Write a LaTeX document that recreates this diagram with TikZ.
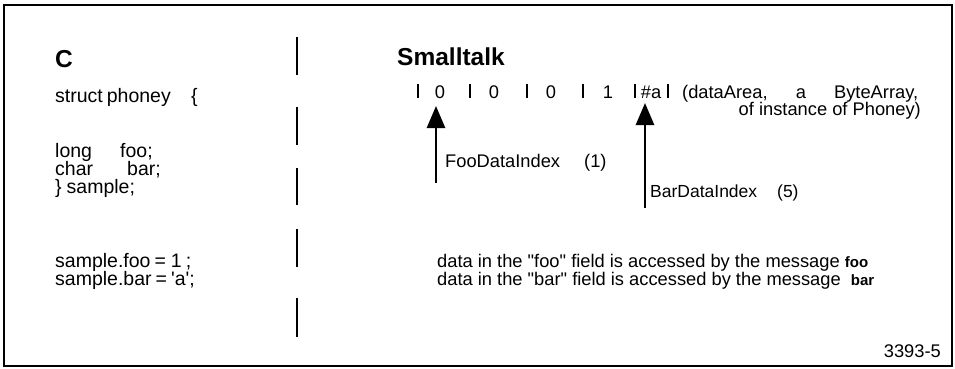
\documentclass[tikz,border=0pt]{standalone}
\usepackage{fontspec}
\setmainfont{Liberation Sans}
\newfontfamily\plainsans{Liberation Sans}
\usetikzlibrary{arrows.meta}
\begin{document}
\begin{tikzpicture}[x=1pt,y=-1pt,
  ltxt/.style={anchor=base west, inner sep=0pt, text height=13pt, text depth=3.5pt, font=\plainsans\fontsize{19.5}{19.5}\selectfont},
  rtxt/.style={anchor=base west, inner sep=0pt, text height=13pt, text depth=3.5pt, font=\plainsans\fontsize{18.3}{18.3}\selectfont},
  heading/.style={anchor=base west, inner sep=0pt, font=\plainsans\bfseries\fontsize{24.5}{24.5}\selectfont},
  cell/.style={anchor=base, inner sep=0pt, font=\plainsans\fontsize{18.3}{18.3}\selectfont},
  sepbar/.style={line width=1.6pt},
  divider/.style={line width=2.4pt},
  frame/.style={line width=2.6pt},
  ptr/.style={line width=2.7pt, -{Triangle[length=22pt,width=18pt]}},
]
\newcommand{\msgword}[1]{{\plainsans\bfseries\fontsize{15}{15}\selectfont #1}}
\useasboundingbox (0,0) rectangle (955,369);
\draw[frame] (4,5) rectangle (952,366);

% dashed divider
\foreach \a/\b in {37/75,107/145,168/205,229/267,298/337}
  \draw[divider] (297,\a) -- (297,\b);

% C column
\node[heading] (chead) at (55,67) {C};
\node[ltxt] (cl1) at (55,102) {\makebox[136pt][l]{struct\hspace{4pt}phoney}\{};
\node[ltxt] (cl2) at (55,157) {\makebox[65pt][l]{long}foo;};
\node[ltxt] (cl3) at (55,175) {\makebox[72pt][l]{char}bar;};
\node[ltxt] (cl4) at (55,193) {\}\hspace{5pt}sample;};
\node[ltxt] (cl5) at (55,267) {sample.foo\hspace{4pt}=\hspace{5pt}1\hspace{4pt};};
\node[ltxt] (cl6) at (55,285) {sample.bar\hspace{4pt}=\hspace{4pt}'a';};

% Smalltalk column
\node[heading] (shead) at (397,66) {Smalltalk};
\foreach \x in {418,470,527,583,635,668}
  \draw[sepbar] (\x,84) -- (\x,98);
\node[cell] (d1) at (440,98) {0};
\node[cell] (d2) at (494,98) {0};
\node[cell] (d3) at (551,98) {0};
\node[cell] (d4) at (608,98) {1};
\node[cell] (d5) at (651,98) {\#a};
\node[rtxt] (da1) at (682,98) {\makebox[236pt][s]{(dataArea,\hspace{5pt plus 20pt}a\hspace{5pt plus 20pt}ByteArray,}};
\node[rtxt, anchor=base east] (da2) at (921,115) {of instance of Phoney)};

\coordinate (fooTail) at (436,183);
\coordinate (fooTip) at (436,106);
\coordinate (barTail) at (645,208);
\coordinate (barTip) at (645,103);
\draw[ptr] (fooTail) -- (fooTip);
\draw[ptr] (barTail) -- (barTip);
\node[rtxt] (fooidx) at (445,167) {\makebox[139pt][l]{FooDataIndex}(1)};
\node[rtxt, font=\plainsans\fontsize{17.5}{17.5}\selectfont] (baridx) at (650,197) {\makebox[127pt][l]{BarDataIndex}(5)};

\node[rtxt] (m1) at (437,267) {data in the "foo" field is accessed by the message \msgword{foo}};
\node[rtxt] (m2) at (437,285) {data in the "bar" field is accessed by the message\ \ \msgword{bar}};

\node[rtxt, anchor=base east] (fig) at (941,357) {3393-5};
\end{tikzpicture}
\end{document}
